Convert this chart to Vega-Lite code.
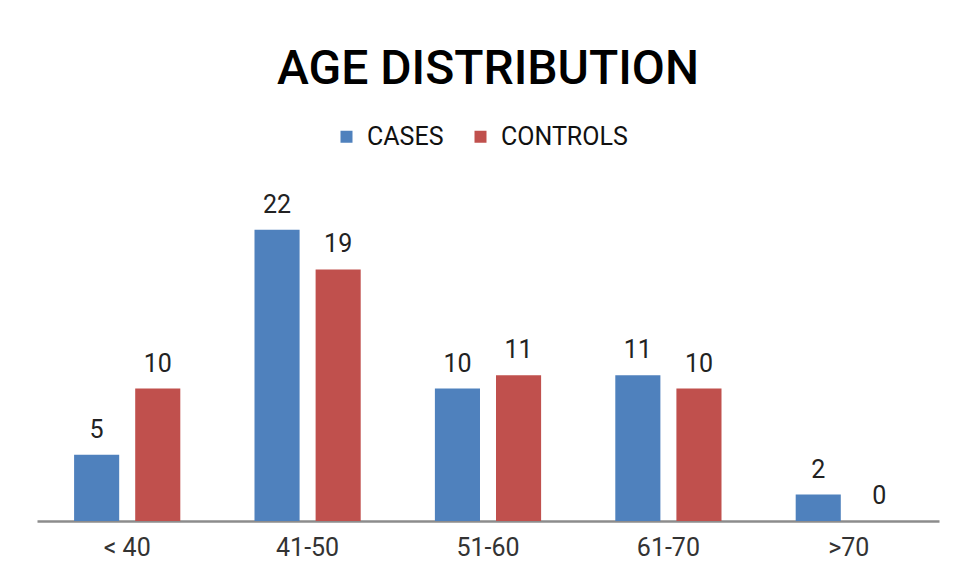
{
  "$schema": "https://vega.github.io/schema/vega-lite/v6.json",
  "width": 902,
  "height": 331,
  "autosize": "none",
  "padding": {"left": 37, "top": 190, "right": 19, "bottom": 56},
  "background": "white",
  "config": {
    "view": {"stroke": null},
    "font": "Roboto"
  },
  "title": {
    "text": "AGE DISTRIBUTION",
    "font": "Roboto",
    "fontSize": 48,
    "fontWeight": 500,
    "color": "#000000",
    "anchor": "middle",
    "baseline": "alphabetic",
    "offset": -8
  },
  "data": {
    "values": [
      {"age": "< 40", "group": "CASES", "count": 5},
      {"age": "< 40", "group": "CONTROLS", "count": 10},
      {"age": "41-50", "group": "CASES", "count": 22},
      {"age": "41-50", "group": "CONTROLS", "count": 19},
      {"age": "51-60", "group": "CASES", "count": 10},
      {"age": "51-60", "group": "CONTROLS", "count": 11},
      {"age": "61-70", "group": "CASES", "count": 11},
      {"age": "61-70", "group": "CONTROLS", "count": 10},
      {"age": ">70", "group": "CASES", "count": 2},
      {"age": ">70", "group": "CONTROLS", "count": 0}
    ]
  },
  "encoding": {
    "x": {
      "field": "age",
      "type": "nominal",
      "sort": ["< 40", "41-50", "51-60", "61-70", ">70"],
      "scale": {"paddingInner": 0, "paddingOuter": 0},
      "axis": {
        "title": null,
        "labelAngle": 0,
        "ticks": false,
        "domainColor": "#8c8c8c",
        "domainWidth": 2.5,
        "labelFont": "Roboto",
        "labelFontSize": 25,
        "labelColor": "#333333",
        "labelPadding": 14
      }
    },
    "xOffset": {
      "field": "group",
      "type": "nominal",
      "sort": ["CASES", "CONTROLS"],
      "scale": {"paddingInner": 0.262, "paddingOuter": 0.607}
    },
    "y": {
      "field": "count",
      "type": "quantitative",
      "scale": {"domain": [0, 25], "nice": false},
      "axis": null
    }
  },
  "layer": [
    {
      "mark": {"type": "bar"},
      "encoding": {
        "color": {
          "field": "group",
          "type": "nominal",
          "scale": {"domain": ["CASES", "CONTROLS"], "range": ["#4f81bd", "#c0504d"]},
          "legend": {
            "title": null,
            "orient": "none",
            "direction": "horizontal",
            "legendX": 297,
            "legendY": -66,
            "symbolType": "square",
            "symbolSize": 144,
            "symbolStrokeWidth": 0,
            "labelFont": "Roboto",
            "labelFontSize": 25,
            "labelColor": "#111111",
            "labelOffset": 8,
            "columnPadding": 24
          }
        }
      }
    },
    {
      "mark": {
        "type": "text",
        "baseline": "alphabetic",
        "dy": -17,
        "fontSize": 25,
        "font": "Roboto",
        "color": "#222222"
      },
      "encoding": {
        "text": {"field": "count", "type": "quantitative"}
      }
    }
  ]
}
